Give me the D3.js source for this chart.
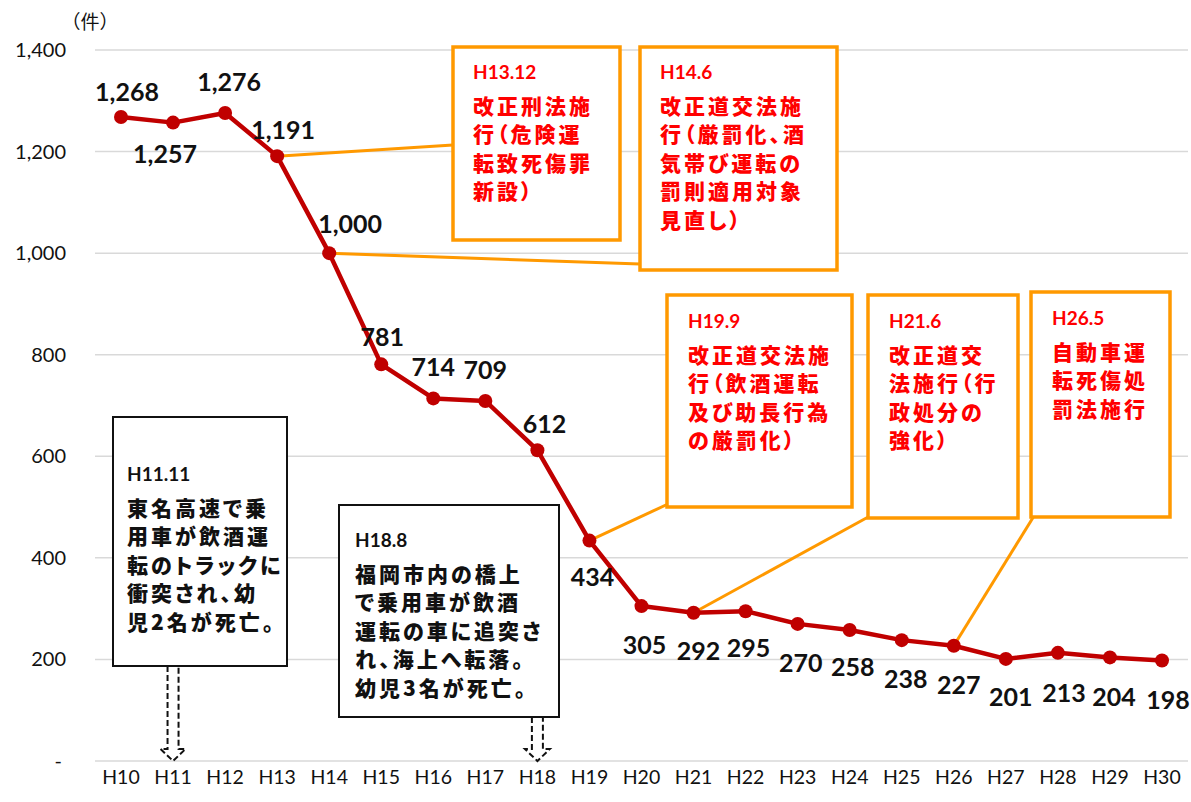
<!DOCTYPE html>
<html>
<head>
<meta charset="utf-8">
<script src="https://cdn.jsdelivr.net/npm/d3@7"></script>
<style>
  body { margin: 0; background: #fff; }
  .jp { font-family: "Noto Sans CJK JP", sans-serif; font-weight: 900; font-feature-settings: "palt"; letter-spacing: 3px; }
  .lat { font-family: Lato, sans-serif; }
</style>
</head>
<body>
<script>
// data
const categories = ['H10','H11','H12','H13','H14','H15','H16','H17','H18','H19','H20',
                    'H21','H22','H23','H24','H25','H26','H27','H28','H29','H30'];
const counts = [1268,1257,1276,1191,1000,781,714,709,612,434,305,292,295,270,258,238,227,201,213,204,198];
const yTicks = [0,200,400,600,800,1000,1200,1400];
const unitLabel = '（件）';

// where each value label sits relative to its point
const labelOffsets = [[6,-25],[-8,32],[4,-31],[6,-26],[21,-29],[1,-27],[0,-31],[0,-31],[7,-26],[3,37],
                      [3,39],[5,39],[3,37],[3,39],[3,37],[4,39],[5,40],[5,38],[6,40],[4,40],[6,40]];

// law changes (orange boxes) and accidents (black boxes)
const lawNotes = [
  {at:'H13', title:'H13.12', lines:['改正刑法施','行（危険運','転致死傷罪','新設）'],
   box:[453,47,167,193], text:[473,72], end:[453,145]},
  {at:'H14', title:'H14.6', lines:['改正道交法施','行（厳罰化、酒','気帯び運転の','罰則適用対象','見直し）'],
   box:[640,47,197,223], text:[660,72], end:[640,264]},
  {at:'H19', title:'H19.9', lines:['改正道交法施','行（飲酒運転','及び助長行為','の厳罰化）'],
   box:[667,295,185,212], text:[688,321], end:[668,504]},
  {at:'H21', title:'H21.6', lines:['改正道交','法施行（行','政処分の','強化）'],
   box:[868,295,150,223], text:[889,321], end:[870,516]},
  {at:'H26', title:'H26.5', lines:['自動車運','転死傷処','罰法施行'],
   box:[1031,292,139,225], text:[1052,318], end:[1034,516]}
];
const accidentNotes = [
  {at:'H11', title:'H11.11', lines:['東名高速で乗','用車が飲酒運','転のトラックに','衝突され、幼','児2名が死亡。'],
   box:[113,417,174,249], text:[127,474]},
  {at:'H18', title:'H18.8', lines:['福岡市内の橋上','で乗用車が飲酒','運転の車に追突さ','れ、海上へ転落。','幼児3名が死亡。'],
   box:[339,505,220,212], text:[355,540]}
];

const W = 1191, H = 802;
const x = d3.scalePoint().domain(categories).range([121,1162]);
const y = d3.scaleLinear().domain([0,1400]).range([761,50]);

const svg = d3.select('body').append('svg')
  .attr('width', W).attr('height', H)
  .style('background','#fff');

// grid
svg.append('g').selectAll('line')
  .data(yTicks)
  .enter().append('line')
  .attr('x1', 95).attr('x2', 1188)
  .attr('y1', d=>y(d)).attr('y2', d=>y(d))
  .attr('stroke', '#d9d9d9').attr('stroke-width', 1.5);

// y axis labels
svg.append('g').selectAll('text')
  .data(yTicks)
  .enter().append('text')
  .attr('class','lat')
  .attr('x', d=> d===0 ? 62 : 66)
  .attr('y', d=>y(d))
  .attr('dy','0.35em')
  .attr('text-anchor','end')
  .attr('font-size', 20)
  .attr('fill','#111')
  .text(d=> d===0 ? '-' : d3.format(',')(d));

svg.append('text')
  .attr('x', 90).attr('y', 22)
  .attr('dy','0.35em')
  .attr('text-anchor','middle')
  .attr('font-size', 19)
  .style('font-family','"Noto Sans CJK JP", sans-serif')
  .attr('fill','#111')
  .text(unitLabel);

// x axis labels
svg.append('g').selectAll('text')
  .data(categories)
  .enter().append('text')
  .attr('class','lat')
  .attr('x', d=>x(d))
  .attr('y', 777)
  .attr('dy','0.35em')
  .attr('text-anchor','middle')
  .attr('font-size', 19.5)
  .attr('fill','#111')
  .text(d=>d);

// connectors from points to law boxes
svg.append('g').selectAll('line')
  .data(lawNotes)
  .enter().append('line')
  .attr('x1', d=>x(d.at))
  .attr('y1', d=>y(counts[categories.indexOf(d.at)]))
  .attr('x2', d=>d.end[0]).attr('y2', d=>d.end[1])
  .attr('stroke', '#FF9900').attr('stroke-width', 3);

// accident arrows (dashed outline)
function arrowPath(cx, top){
  const bottom = 749, tip = 761, sw = 5.5, hw = 12.5;
  return `M${cx-sw},${top} L${cx-sw},${bottom} L${cx-hw},${bottom} L${cx},${tip} L${cx+hw},${bottom} L${cx+sw},${bottom} L${cx+sw},${top}`;
}
svg.append('g').selectAll('path')
  .data(accidentNotes)
  .enter().append('path')
  .attr('d', d=>arrowPath(x(d.at), d.box[1]+d.box[3]))
  .attr('fill','none')
  .attr('stroke','#111')
  .attr('stroke-width', 2)
  .attr('stroke-dasharray','6,3');

// line + markers
const line = d3.line()
  .x((d,i)=>x(categories[i]))
  .y(d=>y(d));

svg.append('path')
  .datum(counts)
  .attr('fill','none')
  .attr('stroke','#C00000')
  .attr('stroke-width', 4.5)
  .attr('stroke-linejoin','round')
  .attr('d', line);

svg.append('g').selectAll('circle')
  .data(counts)
  .enter().append('circle')
  .attr('cx', (d,i)=>x(categories[i]))
  .attr('cy', d=>y(d))
  .attr('r', 7)
  .attr('fill','#C00000');

// value labels
svg.append('g').selectAll('text')
  .data(counts)
  .enter().append('text')
  .attr('class','lat')
  .attr('x', (d,i)=>x(categories[i]) + labelOffsets[i][0])
  .attr('y', (d,i)=>y(d) + labelOffsets[i][1])
  .attr('dy','0.35em')
  .attr('text-anchor','middle')
  .attr('font-size', 25)
  .attr('font-weight', 700)
  .attr('fill','#111')
  .text(d=>d3.format(',')(d));

// boxes
function drawNote(d, stroke, strokeW, color){
  const g = svg.append('g');
  g.append('rect')
    .attr('x', d.box[0]).attr('y', d.box[1])
    .attr('width', d.box[2]).attr('height', d.box[3])
    .attr('fill','#fff')
    .attr('stroke', stroke).attr('stroke-width', strokeW);
  g.append('text')
    .attr('class','lat')
    .attr('x', d.text[0]).attr('y', d.text[1])
    .attr('dy','0.35em')
    .attr('font-size', 19)
    .attr('font-weight', 700)
    .attr('fill', color)
    .text(d.title);
  g.append('g').selectAll('text')
    .data(d.lines)
    .enter().append('text')
    .attr('class','jp')
    .attr('x', d.text[0])
    .attr('y', (t,i)=>d.text[1] + 34 + i*28.5)
    .attr('dy','0.36em')
    .attr('font-size', 21)
    .attr('fill', color)
    .text(t=>t);
}
lawNotes.forEach(d=>drawNote(d, '#FF9900', 3.5, '#FF0000'));
accidentNotes.forEach(d=>drawNote(d, '#111', 2, '#111'));
</script>
</body>
</html>
